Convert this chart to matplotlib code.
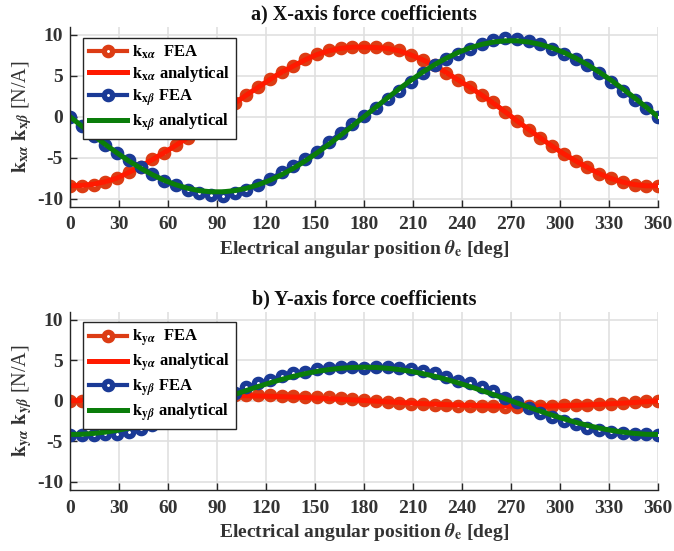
import numpy as np
import matplotlib
matplotlib.use("Agg")
import matplotlib.pyplot as plt

plt.rcParams['font.family'] = ['Liberation Serif', 'DejaVu Serif']
plt.rcParams['font.weight'] = 'bold'
plt.rcParams['mathtext.fontset'] = 'stix'
plt.rcParams['axes.unicode_minus'] = False

# ---------------- data ----------------
theta = np.linspace(0, 360, 51)   # electrical angle [deg], 7.2 deg step

kxa_fea = [-8.5, -8.45, -8.3, -7.95, -7.5, -6.75, -6.1, -5.2, -4.4, -3.5,
           -2.55, -1.6, -0.55, 0.6, 1.7, 2.7, 3.6, 4.6, 5.5, 6.2,
           7.0, 7.7, 8.1, 8.4, 8.55, 8.55, 8.5, 8.45, 8.1, 7.55,
           6.9, 6.3, 5.4, 4.5, 3.6, 2.65, 1.75, 0.6, -0.5, -1.6,
           -2.65, -3.6, -4.6, -5.4, -6.2, -7.0, -7.55, -8.0, -8.35, -8.45, -8.5]
kxa_an = [-8.45, -8.4, -8.25, -7.95, -7.5, -6.8, -6.1, -5.25, -4.4, -3.5,
          -2.55, -1.55, -0.5, 0.6, 1.65, 2.65, 3.6, 4.55, 5.45, 6.2,
          6.95, 7.6, 8.05, 8.35, 8.5, 8.5, 8.45, 8.35, 8.05, 7.55,
          6.95, 6.25, 5.4, 4.5, 3.6, 2.65, 1.65, 0.6, -0.5, -1.55,
          -2.6, -3.6, -4.55, -5.4, -6.2, -6.95, -7.55, -8.0, -8.3, -8.45, -8.45]
kxb_fea = [0.0, -1.15, -2.3, -3.4, -4.4, -5.3, -6.1, -7.0, -7.8, -8.4,
           -8.9, -9.3, -9.55, -9.65, -9.35, -8.9, -8.3, -7.6, -6.8, -6.0,
           -5.2, -4.3, -3.1, -2.0, -0.95, 0.05, 1.1, 2.2, 3.2, 4.3,
           5.3, 6.3, 7.1, 7.7, 8.3, 8.9, 9.35, 9.6, 9.5, 9.2,
           8.9, 8.3, 7.7, 7.1, 6.3, 5.4, 4.3, 3.2, 2.1, 1.1, 0.0]
kxb_an = [0.0, -1.15, -2.29, -3.39, -4.43, -5.41, -6.3, -7.09, -7.77, -8.32,
          -8.75, -9.04, -9.18, -9.18, -9.04, -8.75, -8.32, -7.77, -7.09, -6.3,
          -5.41, -4.43, -3.39, -2.29, -1.15, 0.0, 1.16, 2.31, 3.42, 4.47,
          5.46, 6.36, 7.16, 7.85, 8.41, 8.84, 9.13, 9.28, 9.28, 9.13,
          8.84, 8.41, 7.85, 7.16, 6.36, 5.46, 4.47, 3.42, 2.31, 1.16, 0.0]

kya_fea = [0.0, 0.02, 0.1, 0.2, 0.3, 0.38, 0.45, 0.52, 0.58, 0.62,
           0.66, 0.68, 0.7, 0.7, 0.7, 0.7, 0.7, 0.68, 0.62, 0.58,
           0.52, 0.5, 0.42, 0.32, 0.2, 0.05, -0.02, -0.1, -0.25, -0.35,
           -0.4, -0.48, -0.55, -0.58, -0.6, -0.6, -0.62, -0.7, -0.72, -0.62,
           -0.6, -0.58, -0.52, -0.5, -0.48, -0.4, -0.35, -0.3, -0.15, -0.02, 0.0]
kya_an = [0.0, 0.05, 0.12, 0.2, 0.28, 0.36, 0.43, 0.5, 0.55, 0.6,
          0.63, 0.65, 0.66, 0.66, 0.65, 0.63, 0.6, 0.56, 0.52, 0.47,
          0.41, 0.35, 0.28, 0.2, 0.12, 0.04, -0.04, -0.12, -0.2, -0.28,
          -0.35, -0.41, -0.47, -0.52, -0.56, -0.6, -0.63, -0.65, -0.66, -0.66,
          -0.65, -0.63, -0.6, -0.55, -0.5, -0.43, -0.36, -0.28, -0.2, -0.1, 0.0]
kyb_fea = [-4.2, -4.2, -4.2, -4.15, -4.05, -3.85, -3.45, -3.0, -2.5, -2.0,
           -1.45, -0.85, -0.25, 0.4, 1.0, 1.65, 2.15, 2.6, 3.05, 3.45,
           3.6, 3.9, 4.1, 4.15, 4.15, 4.1, 4.2, 4.15, 4.0, 3.9,
           3.7, 3.4, 3.0, 2.5, 2.2, 1.75, 1.2, 0.35, -0.2, -0.9,
           -1.5, -2.0, -2.45, -2.9, -3.3, -3.6, -3.8, -4.0, -4.1, -4.1, -4.2]
kyb_an = [-4.15, -4.12, -4.02, -3.86, -3.64, -3.36, -3.03, -2.65, -2.22, -1.77,
          -1.28, -0.78, -0.26, 0.26, 0.78, 1.28, 1.77, 2.22, 2.65, 3.03,
          3.36, 3.64, 3.86, 4.02, 4.12, 4.15, 4.12, 4.02, 3.86, 3.64,
          3.36, 3.03, 2.65, 2.22, 1.77, 1.28, 0.78, 0.26, -0.26, -0.78,
          -1.28, -1.77, -2.22, -2.65, -3.03, -3.36, -3.64, -3.86, -4.02, -4.12, -4.15]

xticks = [0, 30, 60, 90, 120, 150, 180, 210, 240, 270, 300, 330, 360]
yticks = [-10, -5, 0, 5, 10]

C_FEA_A = '#DC3C14'
C_AN_A = '#FF1A00'
C_FEA_B = '#1A3A96'
C_AN_B = '#0A7D0A'

fig = plt.figure(figsize=(6.74, 5.51), dpi=100)
ax1 = fig.add_axes([0.1039, 0.6249, 0.8724, 0.3266])
ax2 = fig.add_axes([0.1039, 0.1107, 0.8724, 0.3236])

def style(ax, title, ylabel, data, labels, leg_top):
    fa, aa, fb, ab = data
    mk = dict(marker='o', markersize=6.0, markeredgewidth=3.8, markerfacecolor='white', lw=3.0)
    ax.plot(theta, fa, color=C_FEA_A, markeredgecolor=C_FEA_A, label=labels[0], **mk)
    ax.plot(theta, aa, color=C_AN_A, lw=3.6, label=labels[1])
    ax.plot(theta, fb, color=C_FEA_B, markeredgecolor=C_FEA_B, label=labels[2], **mk)
    ax.plot(theta, ab, color=C_AN_B, lw=3.6, label=labels[3])
    ax.set_xlim(0, 360)
    ax.set_ylim(-11, 11)
    ax.set_xticks(xticks)
    ax.set_yticks(yticks)
    ax.grid(True, color='#E0E0E0', lw=1.2)
    ax.set_axisbelow(True)
    for s in ['top', 'right']:
        ax.spines[s].set_visible(False)
    for s in ['left', 'bottom']:
        ax.spines[s].set_color('#262626')
        ax.spines[s].set_linewidth(1.0)
    ax.tick_params(direction='in', length=5, width=1.0, labelsize=14, colors='#262626',
                   labelcolor='#333333')
    ax.tick_params(axis='x', pad=7)
    ax.tick_params(axis='y', pad=5)
    ax.set_title(title, fontsize=14.5, fontweight='bold', color='#111111', pad=5)
    ax.set_xlabel(r'Electrical angular position $\theta_{\mathbf{e}}$ [deg]',
                  fontsize=14, fontweight='bold', color='#333333', labelpad=3)
    ax.set_ylabel(ylabel, fontsize=14.5, fontweight='normal', color='#333333', labelpad=2)
    leg = ax.legend(loc='upper left', bbox_to_anchor=(0.0216, leg_top), borderaxespad=0,
                    frameon=True, fancybox=False, edgecolor='#262626',
                    handlelength=2.3, handletextpad=0.3, labelspacing=0.2,
                    borderpad=0.35, prop={'weight': 'bold', 'size': 12})
    leg.get_frame().set_linewidth(1.0)
    leg.get_frame().set_alpha(1.0)

style(ax1, 'a) X-axis force coefficients',
      r'$\mathbf{k}_{\mathbf{x}\alpha}$ $\mathbf{k}_{\mathbf{x}\beta}$ [N/A]',
      (kxa_fea, kxa_an, kxb_fea, kxb_an),
      [r'$\mathbf{k}_{\mathbf{x}\alpha}$  FEA', r'$\mathbf{k}_{\mathbf{x}\alpha}$ analytical',
       r'$\mathbf{k}_{\mathbf{x}\beta}$ FEA', r'$\mathbf{k}_{\mathbf{x}\beta}$ analytical'],
      0.939)
style(ax2, 'b) Y-axis force coefficients',
      r'$\mathbf{k}_{\mathbf{y}\alpha}$ $\mathbf{k}_{\mathbf{y}\beta}$ [N/A]',
      (kya_fea, kya_an, kyb_fea, kyb_an),
      [r'$\mathbf{k}_{\mathbf{y}\alpha}$  FEA', r'$\mathbf{k}_{\mathbf{y}\alpha}$ analytical',
       r'$\mathbf{k}_{\mathbf{y}\beta}$ FEA', r'$\mathbf{k}_{\mathbf{y}\beta}$ analytical'],
      0.944)

fig.savefig('out.png', dpi=100)
